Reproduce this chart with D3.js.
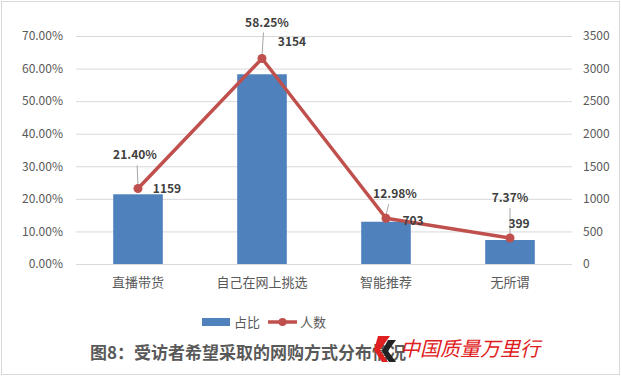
<!DOCTYPE html>
<html>
<head>
<meta charset="utf-8">
<script src="https://cdn.jsdelivr.net/npm/d3@7"></script>
<style>
  body { margin: 0; background: #fff; }
  svg { display: block; }
</style>
</head>
<body>
<div class="chart"></div>
<script>
// data
let categories = ['直播带货', '自己在网上挑选', '智能推荐', '无所谓'];
let shares = [21.40, 58.25, 12.98, 7.37];
let counts = [1159, 3154, 703, 399];
let leftTicks = [0, 10, 20, 30, 40, 50, 60, 70];
let rightTicks = [0, 500, 1000, 1500, 2000, 2500, 3000, 3500];
// label offsets relative to point (share label, count label)
let shareLabelPos = [[-3, -33], [5, -36], [9, -24], [0, -40]];
let countLabelPos = [[29, 1], [30, -17], [27, 3], [9, -14]];

let width = 622;
let height = 378;
let margin = { top: 36, bottom: 114, left: 76, right: 50 };
let font = '"Noto Sans CJK SC", "Noto Sans", sans-serif';

let svg = d3.select('.chart')
  .append('svg')
  .attr('width', width)
  .attr('height', height);

// outer border
svg.append('rect')
  .attr('x', 1.5).attr('y', 1.5)
  .attr('width', width - 4).attr('height', height - 5)
  .attr('fill', 'none')
  .attr('stroke', '#d9d9d9');

let x = d3.scaleBand()
  .domain(categories)
  .range([margin.left, width - margin.right])
  .paddingInner(0.6)
  .paddingOuter(0.3);

let yL = d3.scaleLinear().domain([0, 70]).range([height - margin.bottom, margin.top]);
let yR = d3.scaleLinear().domain([0, 3500]).range([height - margin.bottom, margin.top]);

// gridlines
svg.append('g')
  .selectAll('line')
  .data(leftTicks)
  .enter().append('line')
  .attr('x1', margin.left)
  .attr('x2', width - margin.right)
  .attr('y1', d => yL(d) + 0.5)
  .attr('y2', d => yL(d) + 0.5)
  .attr('stroke', '#d9d9d9')
  .attr('stroke-width', 1);

// left axis
let axL = svg.append('g')
  .attr('transform', 'translate(' + (margin.left - 10) + ',0)')
  .call(d3.axisLeft(yL).tickValues(leftTicks).tickSize(0).tickFormat(d => d.toFixed(2) + '%'));
axL.select('.domain').remove();
axL.selectAll('text').attr('font-family', font).attr('font-size', 12).attr('fill', '#595959');

// right axis
let axR = svg.append('g')
  .attr('transform', 'translate(' + (width - margin.right + 8) + ',0)')
  .call(d3.axisRight(yR).tickValues(rightTicks).tickSize(0).tickFormat(d3.format('d')));
axR.select('.domain').remove();
axR.selectAll('text').attr('font-family', font).attr('font-size', 12).attr('fill', '#595959');

// category labels
svg.append('g')
  .selectAll('text')
  .data(categories)
  .enter().append('text')
  .attr('x', d => x(d) + x.bandwidth() / 2)
  .attr('y', height - margin.bottom + 23)
  .attr('text-anchor', 'middle')
  .attr('font-family', font)
  .attr('font-size', 13)
  .attr('fill', '#595959')
  .text(d => d);

// bars
svg.append('g')
  .selectAll('rect')
  .data(shares)
  .enter().append('rect')
  .attr('x', (d, i) => x(categories[i]))
  .attr('y', d => yL(d))
  .attr('width', x.bandwidth())
  .attr('height', d => yL(0) - yL(d))
  .attr('fill', '#4f81bd');

let cx = i => x(categories[i]) + x.bandwidth() / 2;

// leader lines for share labels
svg.append('g')
  .selectAll('line')
  .data(counts)
  .enter().append('line')
  .attr('x1', (d, i) => cx(i) + shareLabelPos[i][0] * 0.3)
  .attr('y1', (d, i) => yR(d) + shareLabelPos[i][1] + 10)
  .attr('x2', (d, i) => cx(i))
  .attr('y2', d => yR(d) - 3)
  .attr('stroke', '#a6a6a6')
  .attr('stroke-width', 1);

// line
let line = d3.line()
  .x((d, i) => cx(i))
  .y(d => yR(d));

svg.append('path')
  .datum(counts)
  .attr('d', line)
  .attr('fill', 'none')
  .attr('stroke', '#c0504d')
  .attr('stroke-width', 3.5)
  .attr('stroke-linejoin', 'round');

svg.append('g')
  .selectAll('circle')
  .data(counts)
  .enter().append('circle')
  .attr('cx', (d, i) => cx(i))
  .attr('cy', d => yR(d))
  .attr('r', 4.5)
  .attr('fill', '#c0504d');

// share labels
svg.append('g')
  .selectAll('text')
  .data(shares)
  .enter().append('text')
  .attr('x', (d, i) => cx(i) + shareLabelPos[i][0])
  .attr('y', (d, i) => yR(counts[i]) + shareLabelPos[i][1] + 4)
  .attr('text-anchor', 'middle')
  .attr('font-family', font)
  .attr('font-size', 12)
  .attr('font-weight', 'bold')
  .attr('fill', '#404040')
  .text(d => d.toFixed(2) + '%');

// count labels
svg.append('g')
  .selectAll('text')
  .data(counts)
  .enter().append('text')
  .attr('x', (d, i) => cx(i) + countLabelPos[i][0])
  .attr('y', (d, i) => yR(d) + countLabelPos[i][1] + 4)
  .attr('text-anchor', 'middle')
  .attr('font-family', font)
  .attr('font-size', 12)
  .attr('font-weight', 'bold')
  .attr('fill', '#404040')
  .text(d => d);

// legend
let lg = svg.append('g').attr('transform', 'translate(0,' + 322 + ')');
lg.append('rect').attr('x', 202).attr('y', -4).attr('width', 28).attr('height', 8).attr('fill', '#4f81bd');
lg.append('text').attr('x', 234).attr('y', 5).attr('font-family', font).attr('font-size', 13).attr('fill', '#595959').text('占比');
lg.append('line').attr('x1', 268).attr('x2', 297).attr('y1', 0).attr('y2', 0).attr('stroke', '#c0504d').attr('stroke-width', 3.5);
lg.append('circle').attr('cx', 282.5).attr('cy', 0).attr('r', 4).attr('fill', '#c0504d');
lg.append('text').attr('x', 300).attr('y', 5).attr('font-family', font).attr('font-size', 13).attr('fill', '#595959').text('人数');

// title
svg.append('text')
  .attr('x', 90)
  .attr('y', 359)
  .attr('font-family', font)
  .attr('font-size', 17)
  .attr('font-weight', 'bold')
  .attr('fill', '#595959')
  .text('图8：受访者希望采取的网购方式分布情况');

// watermark
let wm = svg.append('g').attr('transform', 'translate(374,336)');
wm.append('path').attr('d', 'M4,0 L16,0 L6,14 L14,26 L8,26 L0,14 Z').attr('fill', '#e02020');
wm.append('path').attr('d', 'M14,4 L22,4 L14,15 L22,26 L15,26 L8,15 Z').attr('fill', '#222');
wm.append('text')
  .attr('x', 26).attr('y', 20)
  .attr('font-family', font)
  .attr('font-size', 20)
  .attr('font-style', 'italic')
  .attr('fill', '#e02020')
  .text('中国质量万里行');
</script>
</body>
</html>
